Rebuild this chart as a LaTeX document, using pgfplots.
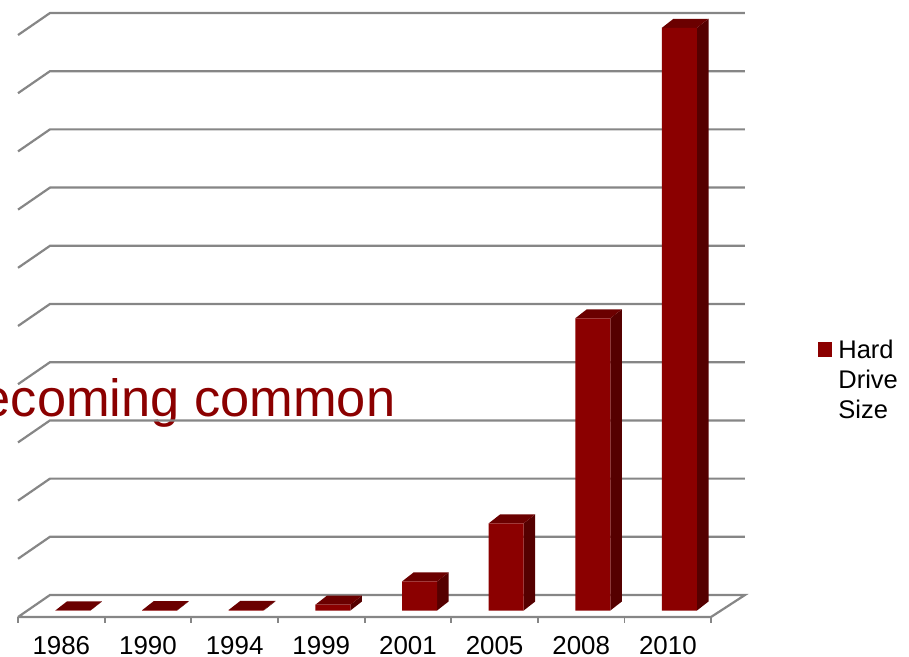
\documentclass[border=0pt]{standalone}
\usepackage{fontspec}
\setmainfont{Liberation Sans}
\usepackage{pgfplots}
\pgfplotsset{compat=1.18}
\definecolor{barfront}{RGB}{139,0,0}
\definecolor{barside}{RGB}{85,0,0}
\definecolor{bartop}{RGB}{107,0,0}
\definecolor{gridgray}{RGB}{134,134,134}
\begin{document}
\begin{tikzpicture}
\path[use as bounding box,clip] (0,0) rectangle (909bp,657bp);
\begin{axis}[
  at={(0,0)},anchor=south west,
  scale only axis,width=909bp,height=657bp,
  xmin=-0.842,xmax=9.649,ymin=-0.8003,ymax=10.508,
  axis line style={draw=none},
  major tick length=0pt,
  ytick=\empty,
  xtick={-0.134,0.866,1.866,2.866,3.866,4.866,5.866,6.866},
  xticklabels={1986,1990,1994,1999,2001,2005,2008,2010},
  xticklabel style={anchor=base,inner sep=0pt,outer sep=0pt,yshift=2.5bp,font=\fontsize{26}{30}\selectfont,text=black},
  clip=false,
  unbounded coords=jump,
  legend style={at={(0.8995,0.4864)},anchor=north west,draw=none,fill=none,inner sep=0pt,
    font=\fontsize{25.6}{30}\selectfont},
  legend cell align=left,
  legend image code/.code={\fill[barfront] (0bp,-7bp) rectangle (14.5bp,7.5bp);},
]
% text behind the chart
\node[anchor=base east,text=barfront,font=\fontsize{52.6}{60}\selectfont,inner sep=0pt]
  at (axis cs:3.723,3.335) {Becoming common};
% walls: gridlines
\foreach \b/\f in {1.269/0.890,2.270/1.891,3.272/2.893,4.274/3.895,5.276/4.897,6.277/5.898,7.279/6.900,8.281/7.902,9.283/8.904,10.284/9.905}{
  \edef\temp{\noexpand\addplot[forget plot,draw=gridgray,line width=2.2bp] coordinates {(-0.634,\f) (-0.265,\b) (7.756,\b)};}
  \temp
}
\addplot[forget plot,draw=gridgray,line width=2.2bp] coordinates
  {(-0.634,-0.112) (-0.265,0.267) (7.756,0.267) (7.364,-0.112) (-0.634,-0.112)};
\addplot[forget plot,draw=gridgray,line width=1.8bp] coordinates {
  (-0.634,-0.112) (-0.634,-0.215) (-0.634,nan)
  (0.366,-0.112) (0.366,-0.215) (0.366,nan)
  (1.366,-0.112) (1.366,-0.215) (1.366,nan)
  (2.366,-0.112) (2.366,-0.215) (2.366,nan)
  (3.366,-0.112) (3.366,-0.215) (3.366,nan)
  (4.366,-0.112) (4.366,-0.215) (4.366,nan)
  (5.366,-0.112) (5.366,-0.215) (5.366,nan)
  (6.366,-0.112) (6.366,-0.215) (6.366,nan)
  (7.366,-0.112) (7.366,-0.215)};
% bars: side and top faces
\foreach \i/\v in {0/0.002,1/0.005,2/0.01,3/0.10,4/0.50,5/1.50,6/5.03,7/10.03}{
  \pgfmathsetmacro\xa{\i-0.202}
  \pgfmathsetmacro\xb{\i+0.202}
  \pgfmathsetmacro\xc{\i+0.335}
  \pgfmathsetmacro\xd{\i-0.069}
  \pgfmathsetmacro\vt{\v+0.155}
  \edef\temp{\noexpand\addplot[forget plot,fill=barside,draw=none] coordinates {(\xb,0) (\xc,0.155) (\xc,\vt) (\xb,\v)} --cycle;
    \noexpand\addplot[forget plot,fill=bartop,draw=none] coordinates {(\xa,\v) (\xb,\v) (\xc,\vt) (\xd,\vt)} --cycle;}
  \temp
}
\addplot[ybar,bar width=35bp,bar shift=0pt,fill=barfront,draw=none] coordinates
  {(0,0.002) (1,0.005) (2,0.01) (3,0.10) (4,0.50) (5,1.50) (6,5.03) (7,10.03)};
\addlegendentry{\parbox[t]{70bp}{\leftskip=4bp\baselineskip=30bp Hard\\Drive\\Size}}
\end{axis}
\end{tikzpicture}
\end{document}
